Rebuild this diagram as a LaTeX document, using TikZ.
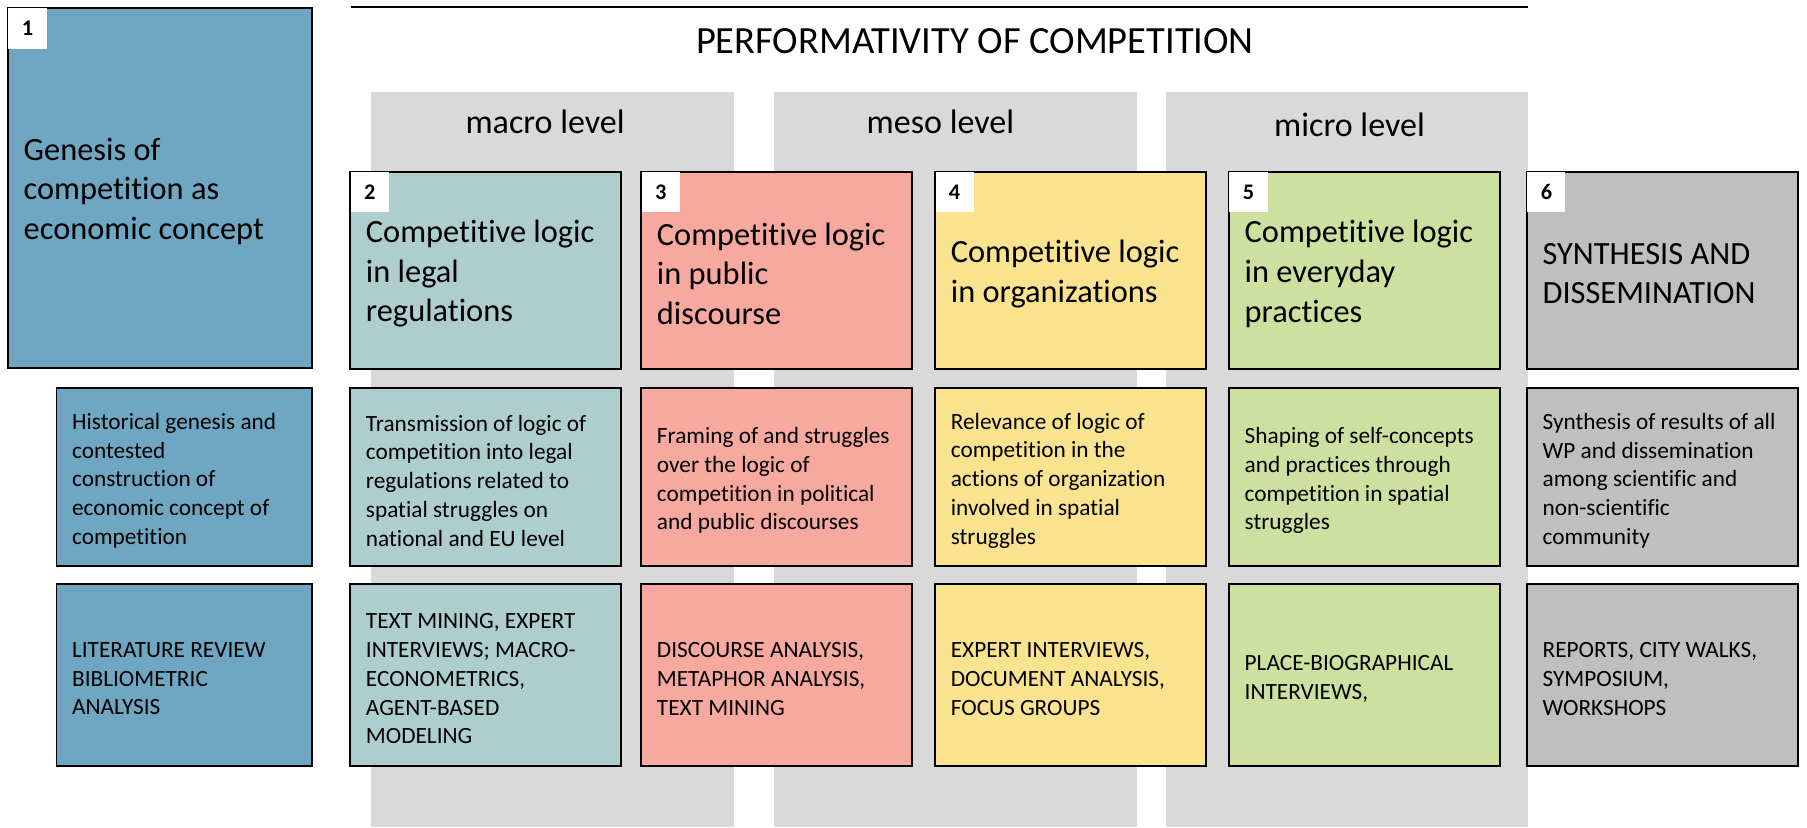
\documentclass[tikz,border=0pt]{standalone}
\usepackage{fontspec}
\setmainfont[Ligatures=NoCommon]{Carlito}
\usetikzlibrary{positioning}

\definecolor{wpblue}{RGB}{111,167,194}
\definecolor{wpteal}{RGB}{174,206,205}
\definecolor{wpred}{RGB}{247,169,160}
\definecolor{wpyellow}{RGB}{249,227,142}
\definecolor{wpgreen}{RGB}{205,224,159}
\definecolor{wpgrey}{RGB}{191,191,191}
\definecolor{levelgrey}{RGB}{217,217,217}

\tikzstyle{wpbox} = [draw=black, line width=0.9pt, rectangle, inner sep=0pt]
\tikzstyle{wphead} = [wpbox, minimum width=4.70cm, minimum height=3.42cm]
\tikzstyle{wpdesc} = [wpbox, minimum width=4.70cm, minimum height=3.08cm]
\tikzstyle{wpmeth} = [wpbox, minimum width=4.70cm, minimum height=3.16cm]
\tikzstyle{headtext} = [align=left, inner sep=0pt, anchor=west, yshift=-0.06cm,
  font=\fontsize{16}{19.6}\selectfont]
\tikzstyle{smalltext} = [align=left, inner sep=0pt, anchor=west, yshift=-0.06cm,
  font=\fontsize{11.5}{14.2}\selectfont]
\tikzstyle{wpnum} = [fill=white, anchor=north west, inner sep=0pt,
  minimum width=0.66cm, minimum height=0.70cm, xshift=0.45pt, yshift=-0.45pt,
  font=\bfseries\fontsize{11}{13}\selectfont]
\tikzstyle{level} = [font=\fontsize{16.8}{20}\selectfont]

\begin{document}
\begin{tikzpicture}
        \useasboundingbox (0,0) rectangle (31.36,-14.36);

        % levels
        \fill[levelgrey] ( 6.44,-1.60) rectangle (12.74,-14.36);
        \fill[levelgrey] (13.44,-1.60) rectangle (19.74,-14.36);
        \fill[levelgrey] (20.24,-1.60) rectangle (26.52,-14.36);
        \draw[line width=0.7pt] (6.10,-0.12) -- (26.52,-0.12);

        \node [font=\fontsize{19}{22}\selectfont] (title) at (16.92,-0.72)
          {PERFORMATIVITY OF COMPETITION};
        \node [level] (macro) at ( 9.46,-2.12) {macro level};
        \node [level] (meso)  at (16.32,-2.12) {meso level};
        \node [level] (micro) at (23.42,-2.16) {micro level};

        % work packages
        \node [wpbox, fill=wpblue, minimum width=5.28cm, minimum height=6.24cm]
          (wp1) at (2.78,-3.26) {};
        \node [wphead, fill=wpteal]   (wp2) at ( 8.43,-4.69) {};
        \node [wphead, fill=wpred]    (wp3) at (13.48,-4.69) {};
        \node [wphead, fill=wpyellow] (wp4) at (18.58,-4.69) {};
        \node [wphead, fill=wpgreen]  (wp5) at (23.68,-4.69) {};
        \node [wphead, fill=wpgrey]   (wp6) at (28.85,-4.69) {};

        \node [wpdesc, fill=wpblue, minimum width=4.44cm] (wp1desc) at (3.20,-8.28) {};
        \node [wpdesc, fill=wpteal]   (wp2desc) at ( 8.43,-8.28) {};
        \node [wpdesc, fill=wpred]    (wp3desc) at (13.48,-8.28) {};
        \node [wpdesc, fill=wpyellow] (wp4desc) at (18.58,-8.28) {};
        \node [wpdesc, fill=wpgreen]  (wp5desc) at (23.68,-8.28) {};
        \node [wpdesc, fill=wpgrey]   (wp6desc) at (28.85,-8.28) {};

        \node [wpmeth, fill=wpblue, minimum width=4.44cm] (wp1meth) at (3.20,-11.72) {};
        \node [wpmeth, fill=wpteal]   (wp2meth) at ( 8.43,-11.72) {};
        \node [wpmeth, fill=wpred]    (wp3meth) at (13.48,-11.72) {};
        \node [wpmeth, fill=wpyellow] (wp4meth) at (18.58,-11.72) {};
        \node [wpmeth, fill=wpgreen]  (wp5meth) at (23.68,-11.72) {};
        \node [wpmeth, fill=wpgrey]   (wp6meth) at (28.85,-11.72) {};

        \node [wpnum] (num1) at (wp1.north west) {1};
        \node [wpnum] (num2) at (wp2.north west) {2};
        \node [wpnum] (num3) at (wp3.north west) {3};
        \node [wpnum] (num4) at (wp4.north west) {4};
        \node [wpnum] (num5) at (wp5.north west) {5};
        \node [wpnum] (num6) at (wp6.north west) {6};

        % titles
        \node [headtext, right=0.28cm of wp1.west] (wp1text)
          {Genesis of\\competition as\\economic concept};
        \node [headtext, right=0.28cm of wp2.west] (wp2text)
          {Competitive logic\\in legal\\regulations};
        \node [headtext, right=0.28cm of wp3.west] (wp3text)
          {Competitive logic\\in public\\discourse};
        \node [headtext, right=0.28cm of wp4.west] (wp4text)
          {Competitive logic\\in organizations};
        \node [headtext, right=0.28cm of wp5.west] (wp5text)
          {Competitive logic\\in everyday\\practices};
        \node [headtext, right=0.28cm of wp6.west] (wp6text)
          {SYNTHESIS AND\\DISSEMINATION};

        % descriptions
        \node [smalltext, right=0.28cm of wp1desc.west] (wp1desctext)
          {Historical genesis and\\contested\\construction of\\economic concept of\\competition};
        \node [smalltext, right=0.28cm of wp2desc.west] (wp2desctext)
          {Transmission of logic of\\competition into legal\\regulations related to\\spatial struggles on\\national and EU level};
        \node [smalltext, right=0.28cm of wp3desc.west] (wp3desctext)
          {Framing of and struggles\\over the logic of\\competition in political\\and public discourses};
        \node [smalltext, right=0.28cm of wp4desc.west] (wp4desctext)
          {Relevance of logic of\\competition in the\\actions of organization\\involved in spatial\\struggles};
        \node [smalltext, right=0.28cm of wp5desc.west] (wp5desctext)
          {Shaping of self-concepts\\and practices through\\competition in spatial\\struggles};
        \node [smalltext, right=0.28cm of wp6desc.west] (wp6desctext)
          {Synthesis of results of all\\WP and dissemination\\among scientific and\\non-scientific\\community};

        % methods
        \node [smalltext, right=0.28cm of wp1meth.west] (wp1methtext)
          {LITERATURE REVIEW\\BIBLIOMETRIC\\ANALYSIS};
        \node [smalltext, right=0.28cm of wp2meth.west] (wp2methtext)
          {TEXT MINING, EXPERT\\INTERVIEWS; MACRO-\\ECONOMETRICS,\\AGENT-BASED\\MODELING};
        \node [smalltext, right=0.28cm of wp3meth.west] (wp3methtext)
          {DISCOURSE ANALYSIS,\\METAPHOR ANALYSIS,\\TEXT MINING};
        \node [smalltext, right=0.28cm of wp4meth.west] (wp4methtext)
          {EXPERT INTERVIEWS,\\DOCUMENT ANALYSIS,\\FOCUS GROUPS};
        \node [smalltext, right=0.28cm of wp5meth.west] (wp5methtext)
          {PLACE-BIOGRAPHICAL\\INTERVIEWS,};
        \node [smalltext, right=0.28cm of wp6meth.west] (wp6methtext)
          {REPORTS, CITY WALKS,\\SYMPOSIUM,\\WORKSHOPS};
      \end{tikzpicture}
\end{document}
